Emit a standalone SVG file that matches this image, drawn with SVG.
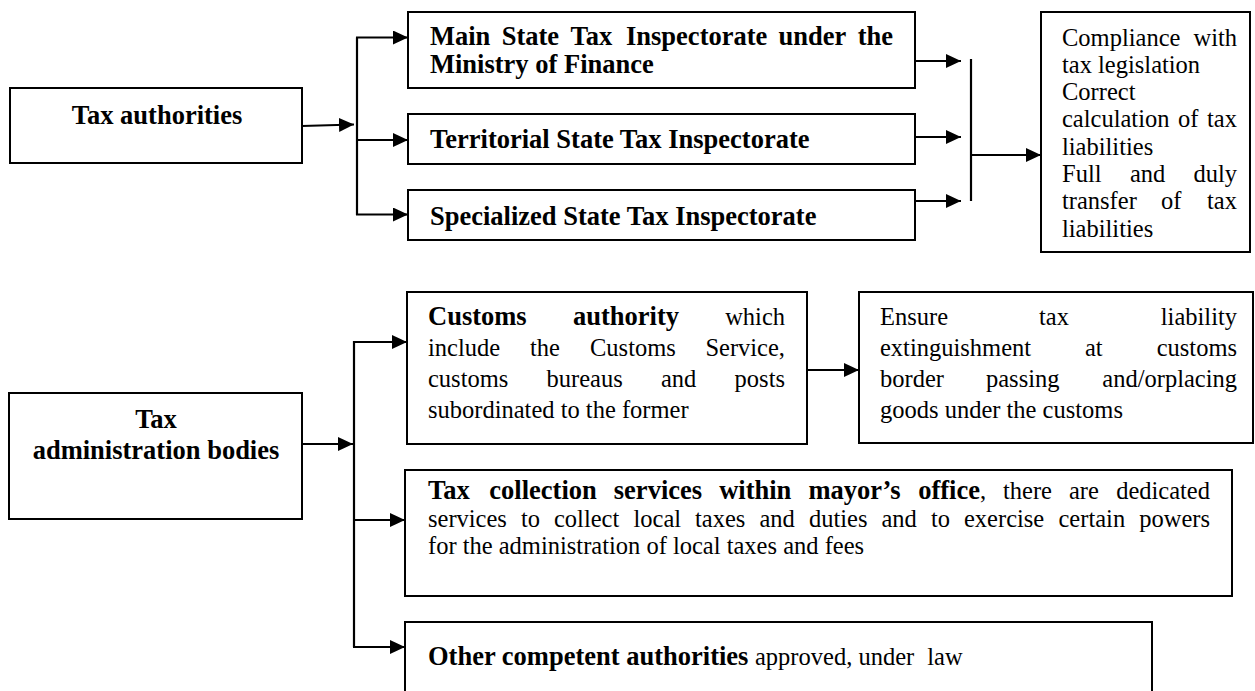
<svg xmlns="http://www.w3.org/2000/svg" width="1255" height="691" viewBox="0 0 1255 691">
<defs>
<style>
.box{fill:#fff;stroke:#000;stroke-width:2}
.ln{fill:none;stroke:#000;stroke-width:2.2}
.arr{marker-end:url(#ah)}
text{font-family:"Liberation Serif","Times New Roman",serif;fill:#000}
.b{font-weight:bold;font-size:26.5px}
.r{font-size:24.5px}
.bt{font-weight:bold;font-size:26.5px}
.c{text-anchor:middle}
.e{text-anchor:end}
</style>
<marker id="ah" viewBox="0 0 15 14" refX="15" refY="7" markerWidth="15" markerHeight="14" markerUnits="userSpaceOnUse" orient="auto">
<path d="M0,0 L15,7 L0,14 z" fill="#000"/>
</marker>
</defs>
<rect width="1255" height="691" fill="#fff"/>

<g id="n-tax-authorities">
<rect class="box" x="10" y="88" width="292" height="75"/>
<text class="b c" x="157" y="124">Tax authorities</text>
</g>

<g id="n-main">
<rect class="box" x="408" y="12" width="507" height="76"/>
<text class="b" y="45"><tspan x="430">Main</tspan><tspan x="501.7">State</tspan><tspan x="570.4">Tax</tspan><tspan x="626">Inspectorate</tspan><tspan x="778.5">under</tspan><tspan x="893" class="e">the</tspan></text>
<text class="b" x="430" y="73">Ministry of Finance</text>
</g>

<g id="n-territorial">
<rect class="box" x="408" y="114" width="507" height="50"/>
<text class="b" x="430" y="148">Territorial State Tax Inspectorate</text>
</g>

<g id="n-specialized">
<rect class="box" x="408" y="190" width="507" height="50"/>
<text class="b" x="430" y="225">Specialized State Tax Inspectorate</text>
</g>

<g id="n-compliance">
<rect class="box" x="1041" y="12" width="209" height="240"/>
<text class="r" y="45.5"><tspan x="1062">Compliance</tspan><tspan x="1237" class="e">with</tspan></text>
<text class="r" x="1062" y="72.5">tax legislation</text>
<text class="r" x="1062" y="100">Correct</text>
<text class="r" y="127"><tspan x="1062">calculation</tspan><tspan x="1178">of</tspan><tspan x="1237" class="e">tax</tspan></text>
<text class="r" x="1062" y="154.5">liabilities</text>
<text class="r" y="182"><tspan x="1062">Full</tspan><tspan x="1130">and</tspan><tspan x="1237" class="e">duly</tspan></text>
<text class="r" y="209"><tspan x="1062">transfer</tspan><tspan x="1161">of</tspan><tspan x="1237" class="e">tax</tspan></text>
<text class="r" x="1062" y="236.5">liabilities</text>
</g>

<g id="n-tax-admin">
<rect class="box" x="9" y="393" width="293" height="126"/>
<text class="b c" x="156" y="428">Tax</text>
<text class="b c" x="156" y="459">administration bodies</text>
</g>

<g id="n-customs">
<rect class="box" x="407" y="292" width="400" height="152"/>
<text class="r" y="325"><tspan x="428" class="bt">Customs</tspan><tspan x="573" class="bt">authority</tspan><tspan x="785" class="e">which</tspan></text>
<text class="r" y="356"><tspan x="428">include</tspan><tspan x="530">the</tspan><tspan x="590">Customs</tspan><tspan x="785" class="e">Service,</tspan></text>
<text class="r" y="387"><tspan x="428">customs</tspan><tspan x="546.5">bureaus</tspan><tspan x="661">and</tspan><tspan x="785" class="e">posts</tspan></text>
<text class="r" x="428" y="418">subordinated to the former</text>
</g>

<g id="n-ensure">
<rect class="box" x="859" y="292" width="394" height="151"/>
<text class="r" y="325"><tspan x="880">Ensure</tspan><tspan x="1039">tax</tspan><tspan x="1237" class="e">liability</tspan></text>
<text class="r" y="356"><tspan x="880">extinguishment</tspan><tspan x="1085">at</tspan><tspan x="1237" class="e">customs</tspan></text>
<text class="r" y="387"><tspan x="880">border</tspan><tspan x="986">passing</tspan><tspan x="1237" class="e">and/orplacing</tspan></text>
<text class="r" x="880" y="418">goods under the customs</text>
</g>

<g id="n-tax-collection">
<rect class="box" x="405" y="470" width="827" height="126"/>
<text class="r" y="499"><tspan x="428" class="bt">Tax</tspan><tspan x="489.3" class="bt">collection</tspan><tspan x="613.8" class="bt">services</tspan><tspan x="719.2" class="bt">within</tspan><tspan x="808.4" class="bt">mayor’s</tspan><tspan x="918.2" class="bt">office</tspan><tspan>,</tspan><tspan x="1003">there</tspan><tspan x="1069">are</tspan><tspan x="1210" class="e">dedicated</tspan></text>
<text class="r" y="526.5"><tspan x="428">services</tspan><tspan x="521">to</tspan><tspan x="554">collect</tspan><tspan x="633.5">local</tspan><tspan x="695">taxes</tspan><tspan x="759.5">and</tspan><tspan x="809">duties</tspan><tspan x="881.5">and</tspan><tspan x="931">to</tspan><tspan x="964">exercise</tspan><tspan x="1058.5">certain</tspan><tspan x="1210" class="e">powers</tspan></text>
<text class="r" x="428" y="554">for the administration of local taxes and fees</text>
</g>

<g id="n-other">
<rect class="box" x="405" y="622" width="747" height="90"/>
<text class="r" y="665"><tspan x="428" class="bt">Other competent authorities</tspan><tspan x="755">approved, under</tspan><tspan dx="13">law</tspan></text>
</g>

<g id="connectors">
<path class="ln arr" d="M302,126 L354,124.5"/>
<path class="ln" d="M357,37.5 V215"/>
<path class="ln arr" d="M356,37.5 H408"/>
<path class="ln arr" d="M356,140 H408"/>
<path class="ln arr" d="M356,214.5 H408"/>
<path class="ln arr" d="M915,61 H961"/>
<path class="ln arr" d="M915,137 H961"/>
<path class="ln arr" d="M915,201 H961"/>
<path class="ln" d="M971,59 V201"/>
<path class="ln arr" d="M970,155 H1041"/>
<path class="ln arr" d="M302,444 H353"/>
<path class="ln" d="M354,341 V647"/>
<path class="ln arr" d="M353,342 H407"/>
<path class="ln arr" d="M353,520 H405"/>
<path class="ln arr" d="M353,647 H405"/>
<path class="ln arr" d="M807,370 H859"/>
</g>
</svg>
